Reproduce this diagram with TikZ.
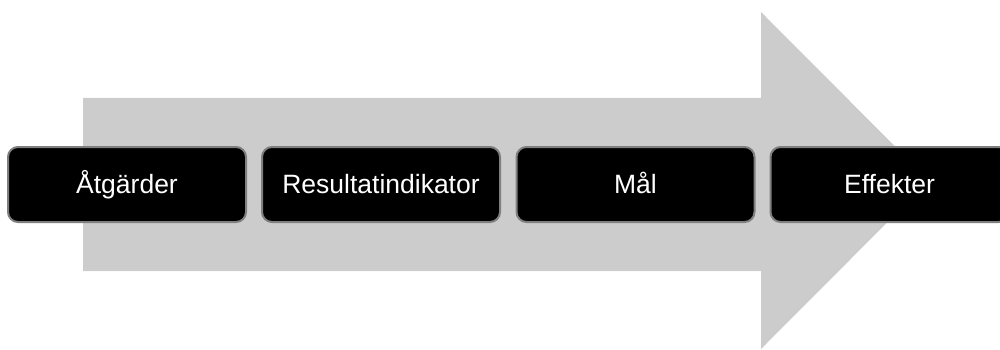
\documentclass[tikz,border=0pt]{standalone}
\usepackage{fontspec}
\setmainfont{Liberation Sans}
\definecolor{arrowgray}{HTML}{CCCCCC}
\definecolor{bordergray}{HTML}{7F7F7F}
\begin{document}
\begin{tikzpicture}[x=1pt,y=-1pt,
  stepbox/.style={draw=bordergray, line width=2pt, fill=black, text=white,
    rounded corners=10pt, minimum width=238pt, minimum height=75pt, inner sep=0pt,
    text height=17pt, text depth=0pt,
    font=\fontsize{26.5}{30}\selectfont},
  bigarrow/.style={fill=arrowgray, draw=none}]
\useasboundingbox (0,0) rectangle (1000,350);
\clip (0,0) rectangle (1000,350);
\fill[bigarrow] (83,98) -- (761,98) -- (761,12) -- (929,180.5) -- (761,349) -- (761,271) -- (83,271) -- cycle;
\node[stepbox] (a) at (127,184.5) {Åtgärder};
\node[stepbox] (b) at (381,184.5) {Resultatindikator};
\node[stepbox] (c) at (635.5,184.5) {Mål};
\node[stepbox] (d) at (889.5,184.5) {Effekter};
\end{tikzpicture}
\end{document}
